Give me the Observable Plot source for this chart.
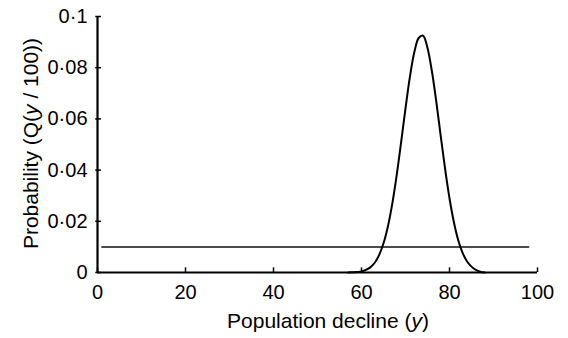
<!DOCTYPE html>
<html>
<head>
<meta charset="utf-8">
<script src="https://cdn.jsdelivr.net/npm/d3@7"></script>
<script src="https://cdn.jsdelivr.net/npm/@observablehq/plot@0.6"></script>
<style>
  html, body { margin: 0; padding: 0; background: #fff; }
  #chart { width: 568px; height: 338px; }
</style>
</head>
<body>
<div id="chart"></div>
<script>
// Data
const declineY = [57, 58, 59, 60, 61, 62, 63, 64, 65, 66, 67, 68, 69, 70, 71, 72, 73, 74, 75, 76, 77, 78, 79, 80, 81, 82, 83, 84, 85, 86, 87, 88];
const probability = [0, 0.0001, 0.0002, 0.0004, 0.0010, 0.0020, 0.0038, 0.0068, 0.0114, 0.0180, 0.0269, 0.0380, 0.0508, 0.0641, 0.0764, 0.0860, 0.0916, 0.0925, 0.0877, 0.0786, 0.0667, 0.0534, 0.0405, 0.0290, 0.0196, 0.0125, 0.0076, 0.0043, 0.0023, 0.0010, 0.0003, 0];
const thresholdX = [1, 98];
const thresholdP = [0.01, 0.01];
const xTicks = [0, 20, 40, 60, 80, 100];
const xTickLabels = ["0", "20", "40", "60", "80", "100"];
const yTicks = [0, 0.02, 0.04, 0.06, 0.08, 0.1];
const yTickLabels = ["0", "0·02", "0·04", "0·06", "0·08", "0·1"];
const xTitle = ["Population decline (", "y", ")"];
const yTitle = ["Probability (Q(", "y", " / 100))"];

const curve = declineY.map((x, i) => ({x, p: probability[i]}));
const threshold = thresholdX.map((x, i) => ({x, p: thresholdP[i]}));

const font = "'Liberation Sans', Arial, Helvetica, sans-serif";

const chart = Plot.plot({
  width: 568,
  height: 338,
  marginLeft: 97,
  marginRight: 31,
  marginTop: 16,
  marginBottom: 66,
  x: {domain: [0, 100]},
  y: {domain: [0, 0.1]},
  style: {fontFamily: font, fontSize: "20px", color: "#000", background: "#fff", overflow: "visible"},
  marks: [
    Plot.axisX({ticks: xTicks, tickSize: 0, tickPadding: 12, label: null, fontSize: 20,
      tickFormat: d => xTickLabels[xTicks.indexOf(d)]}),
    Plot.axisY({ticks: yTicks, tickSize: 0, tickPadding: 10, label: null, fontSize: 20,
      tickFormat: d => yTickLabels[yTicks.indexOf(d)]}),
    Plot.ruleY(yTicks, {x1: -0.4, x2: 0.9, stroke: "#000", strokeWidth: 1.5}),
    Plot.ruleX(xTicks, {y1: 0, y2: 0.0018, stroke: "#000", strokeWidth: 1.5}),
    Plot.line(threshold, {x: "x", y: "p", stroke: "#111", strokeWidth: 1.5}),
    Plot.line(curve, {x: "x", y: "p", stroke: "#000", strokeWidth: 2, curve: "catmull-rom"}),
    Plot.ruleY([0], {x1: 0, x2: 100, stroke: "#000", strokeWidth: 2.2}),
    Plot.ruleX([0], {y1: 0, y2: 0.1, stroke: "#000", strokeWidth: 2.2})
  ]
});

document.getElementById("chart").appendChild(chart);

// Axis titles with italic y
const svg = d3.select(chart);
const xt = svg.append("text")
  .attr("x", 328).attr("y", 328)
  .attr("text-anchor", "middle")
  .attr("font-family", font).attr("font-size", 21).attr("fill", "#000");
xt.append("tspan").text(xTitle[0]);
xt.append("tspan").attr("font-style", "italic").text(xTitle[1]);
xt.append("tspan").text(xTitle[2]);

const yt = svg.append("text")
  .attr("transform", "translate(38,143.5) rotate(-90)")
  .attr("text-anchor", "middle")
  .attr("font-family", font).attr("font-size", 21).attr("fill", "#000");
yt.append("tspan").text(yTitle[0]);
yt.append("tspan").attr("font-style", "italic").text(yTitle[1]);
yt.append("tspan").text(yTitle[2]);
</script>
</body>
</html>
